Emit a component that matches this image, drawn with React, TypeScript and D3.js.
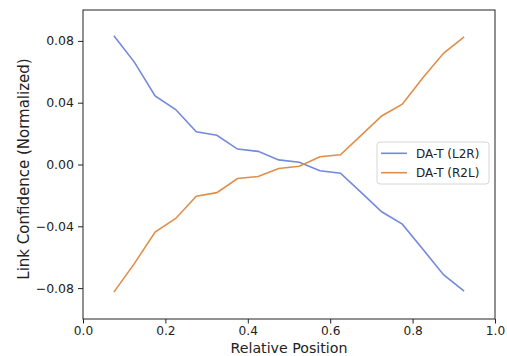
import { useEffect, useRef } from "react";
import * as d3 from "d3";

const positions = [0.075, 0.125, 0.175, 0.225, 0.275, 0.325, 0.375, 0.425, 0.475, 0.525, 0.575, 0.625, 0.675, 0.725, 0.775, 0.825, 0.875, 0.925];
const l2r = [0.0833, 0.0661, 0.0444, 0.0356, 0.0212, 0.0189, 0.0100, 0.0085, 0.0030, 0.0015, -0.0041, -0.0056, -0.0180, -0.0306, -0.0386, -0.0549, -0.0713, -0.0820];
const r2l = [-0.0826, -0.0640, -0.0438, -0.0349, -0.0206, -0.0182, -0.0091, -0.0078, -0.0026, -0.0011, 0.0050, 0.0063, 0.0189, 0.0314, 0.0390, 0.0562, 0.0720, 0.0826];
const xTicks = [0, 0.2, 0.4, 0.6, 0.8, 1.0];
const yTicks = [-0.08, -0.04, 0, 0.04, 0.08];
const seriesNames = ["DA-T (L2R)", "DA-T (R2L)"];
const colors = ["#7489dc", "#e08e48"];

const W = 507;
const H = 356;
const m = { left: 83, right: 495, top: 10, bottom: 319 };
const font = "DejaVu Sans, sans-serif";

export default function App() {
  const ref = useRef<SVGSVGElement>(null);

  useEffect(() => {
    const svg = d3.select(ref.current);
    svg.selectAll("*").remove();

    const x = d3.scaleLinear().domain([0, 1]).range([m.left, m.right]);
    const y = d3.scaleLinear().domain([-0.1, 0.1]).range([m.bottom, m.top]);

    const line = d3.line<[number, number]>()
      .x((d) => x(d[0]))
      .y((d) => y(d[1]));

    [l2r, r2l].forEach((vals, i) => {
      svg.append("path")
        .attr("d", line(positions.map((p, j) => [p, vals[j]]) as [number, number][]))
        .attr("fill", "none")
        .attr("stroke", colors[i])
        .attr("stroke-width", 1.6);
    });

    // frame
    svg.append("rect")
      .attr("x", m.left)
      .attr("y", m.top)
      .attr("width", m.right - m.left)
      .attr("height", m.bottom - m.top)
      .attr("fill", "none")
      .attr("stroke", "#222")
      .attr("stroke-width", 1);

    const xAxis = svg.append("g")
      .attr("transform", `translate(0,${m.bottom})`)
      .call(d3.axisBottom(x).tickValues(xTicks).tickFormat(d3.format(".1f")).tickSize(4.5).tickPadding(3));
    xAxis.select(".domain").remove();

    const yAxis = svg.append("g")
      .attr("transform", `translate(${m.left},0)`)
      .call(d3.axisLeft(y).tickValues(yTicks).tickFormat((d) => d3.format(".2f")(d as number).replace("-", "\u2212")).tickSize(5).tickPadding(4));
    yAxis.select(".domain").remove();

    svg.selectAll(".tick text")
      .attr("font-family", font)
      .attr("font-size", 12.5)
      .attr("fill", "#222");
    xAxis.selectAll(".tick text").attr("font-size", 12.2);
    svg.selectAll(".tick line").attr("stroke", "#222");

    svg.append("text")
      .attr("x", (m.left + m.right) / 2)
      .attr("y", 352.6)
      .attr("text-anchor", "middle")
      .attr("font-family", font)
      .attr("font-size", 14.2)
      .attr("fill", "#222")
      .text("Relative Position");

    svg.append("text")
      .attr("transform", `translate(29,169) rotate(-90)`)
      .attr("text-anchor", "middle")
      .attr("font-family", font)
      .attr("font-size", 15)
      .attr("fill", "#222")
      .text("Link Confidence (Normalized)");

    // legend
    const lg = svg.append("g");
    lg.append("rect")
      .attr("x", 377)
      .attr("y", 142)
      .attr("width", 112)
      .attr("height", 42)
      .attr("rx", 3)
      .attr("fill", "white")
      .attr("fill-opacity", 0.8)
      .attr("stroke", "#d6d6d6");
    seriesNames.forEach((name, i) => {
      const cy = 153.3 + i * 19.4;
      lg.append("line")
        .attr("x1", 381)
        .attr("x2", 407)
        .attr("y1", cy)
        .attr("y2", cy)
        .attr("stroke", colors[i])
        .attr("stroke-width", 1.6);
      lg.append("text")
        .attr("x", 416)
        .attr("y", cy)
        .attr("dy", "0.36em")
        .attr("font-family", font)
        .attr("font-size", 12)
        .attr("fill", "#222")
        .text(name);
    });
  }, []);

  return (
    <div style={{ position: "fixed", left: 0, top: 0 }}>
      <svg ref={ref} width={W} height={H} style={{ display: "block", background: "white" }} />
    </div>
  );
}
